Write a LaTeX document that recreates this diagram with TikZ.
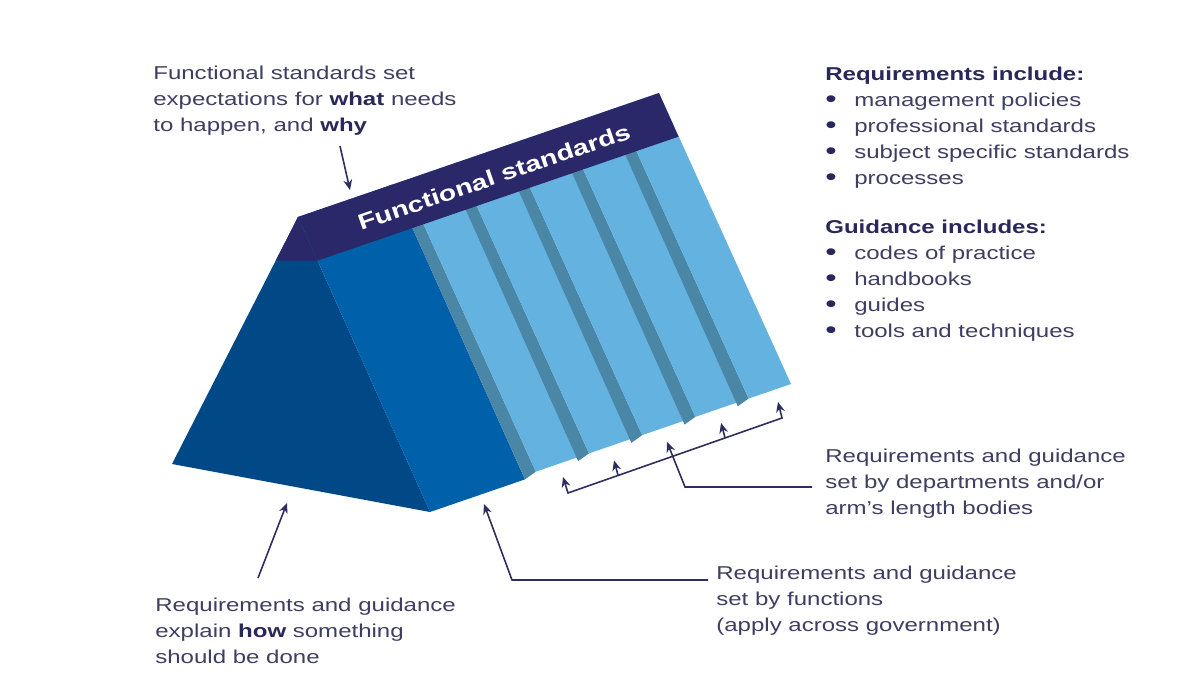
\documentclass[tikz,border=0pt]{standalone}
\usepackage{fontspec}
\setmainfont[FakeStretch=1.29]{Liberation Sans}
\usetikzlibrary{calc,arrows.meta}

\definecolor{capnavy}{RGB}{42,40,104}
\definecolor{frontblue}{RGB}{0,72,134}
\definecolor{midblue}{RGB}{0,97,170}
\definecolor{lightblue}{RGB}{100,178,224}
\definecolor{tealside}{RGB}{74,134,166}
\definecolor{notegrey}{RGB}{62,62,98}
\definecolor{boldnavy}{RGB}{40,40,90}
\definecolor{arrownavy}{RGB}{45,45,95}

\newcommand{\listdot}{\makebox[0.58cm][l]{\textcolor{boldnavy}{\raisebox{-0.5pt}{\scalebox{1.35}{\textbullet}}}}}

\begin{document}
\begin{tikzpicture}[x=0.02cm,y=-0.02cm,
	note/.style={anchor=north west, inner sep=0pt, align=left, text=notegrey, font=\fontsize{10.6pt}{14.7pt}\selectfont},
	bandtext/.style={text=white, inner sep=0pt, font=\bfseries\fontsize{12.5pt}{15pt}\selectfont},
	pointer/.style={draw=arrownavy, line width=0.9pt, -{Stealth[length=5.8pt,width=5pt]}},
	bracket/.style={draw=arrownavy, line width=0.9pt, {Stealth[length=5.8pt,width=5pt]}-{Stealth[length=5.8pt,width=5pt]}},
	]
	\fill[white] (0,0) rectangle (1201,676);
	\useasboundingbox (0,0) rectangle (1201,676);

	% prism corners
	\coordinate (A) at (298,217);	%front end of the ridge
	\coordinate (L) at (172,464);
	\coordinate (B) at (430,512);
	\def\sb{0.148}					%width of the cap

	% front face
	\fill[frontblue] (A) -- (L) -- (B) -- cycle;
	\fill[capnavy] (A) -- ($(A)!0.176!(L)$) -- ($(A)+\sb*(132,295)$) -- cycle;

	% side face: functions strip
	\fill[midblue] (A) -- (B) -- ($(B)+0.263*(361,-124)$) -- ($(A)+0.263*(361,-124)$) -- cycle;

	% side face: department planks
	\foreach \i in {0,...,4}{
		\pgfmathsetmacro\ta{0.263+0.1474*\i}
		\pgfmathsetmacro\tw{\ta+0.03}
		\pgfmathsetmacro\tb{\ta+0.1474}
		\fill[tealside] ($(A)+\ta*(361,-124)$) -- ($(A)+\tw*(361,-124)$) -- ($(B)+\tw*(361,-124)+(0,-4)$) -- ($(B)+\ta*(361,-124)$) -- cycle;
		\fill[lightblue] ($(A)+\tw*(361,-124)$) -- ($(A)+\tb*(361,-124)$) -- ($(B)+\tb*(361,-124)+(0,-4)$) -- ($(B)+\tw*(361,-124)+(0,-4)$) -- cycle;
	}

	% cap along the ridge
	\fill[capnavy] (A) -- ($(A)+(361,-124)$) -- ($(A)+(361,-124)+\sb*(132,295)$) -- ($(A)+\sb*(132,295)$) -- cycle;
	\node[bandtext, rotate=18.96] (bandlabel) at (494,177) {Functional standards};

	% notes
	\node[note] (whatnote) at (153,66) {Functional standards set\\expectations for \textbf{\textcolor{boldnavy}{what}} needs\\to happen, and \textbf{\textcolor{boldnavy}{why}}};
	\node[note] (reqlist) at (825,67) {\textbf{\textcolor{boldnavy}{Requirements include:}}\\\listdot management policies\\\listdot professional standards\\\listdot subject specific standards\\\listdot processes};
	\node[note] (guidelist) at (825,220) {\textbf{\textcolor{boldnavy}{Guidance includes:}}\\\listdot codes of practice\\\listdot handbooks\\\listdot guides\\\listdot tools and techniques};
	\node[note] (deptnote) at (825,449) {Requirements and guidance\\set by departments and/or\\arm’s length bodies};
	\node[note] (funcnote) at (716,566) {Requirements and guidance\\set by functions\\(apply across government)};
	\node[note] (hownote) at (155,598) {Requirements and guidance\\explain \textbf{\textcolor{boldnavy}{how}} something\\should be done};

	% arrows
	\coordinate (whatTail) at (340,146);
	\coordinate (whatTip) at (350,190);
	\draw[pointer] (whatTail) -- (whatTip);

	\coordinate (howTail) at (258,578);
	\coordinate (howTip) at (287,503);
	\draw[pointer] (howTail) -- (howTip);

	\coordinate (funcStart) at (708,580);
	\coordinate (funcElbow) at (512,580);
	\coordinate (funcTip) at (484,504);
	\draw[pointer] (funcStart) -- (funcElbow) -- (funcTip);

	\coordinate (deptStart) at (812,487);
	\coordinate (deptElbow) at (685,487);
	\coordinate (deptTip) at (667,442);
	\draw[pointer] (deptStart) -- (deptElbow) -- (deptTip);

	% bracket under the planks
	\coordinate (brLeft) at (568,493);
	\coordinate (brRight) at (782,418);
	\draw[bracket] ($(brLeft)+(-5,-16)$) -- (brLeft) -- (brRight) -- ($(brRight)+(-4,-16)$);
	\foreach \u in {0.234,0.734}
		\draw[pointer] ($(brLeft)!\u!(brRight)$) -- ++(-4,-15);
\end{tikzpicture}
\end{document}
